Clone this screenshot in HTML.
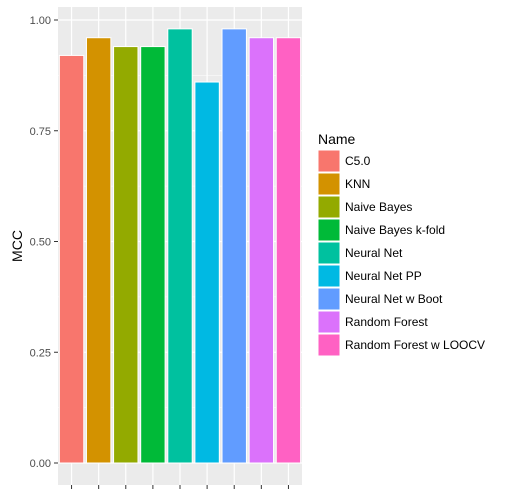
<!DOCTYPE html>
<html><head><meta charset="utf-8"><style>
body{margin:0;background:#fff;}
svg text{font-family:"Liberation Sans",sans-serif;}
</style></head><body>
<svg width="512" height="496" id="chart">
<rect x="58" y="7" width="244" height="478" fill="#ebebeb"/>
<g id="grid"></g><g id="bars"></g><g id="axes"></g><g id="legend"></g>
<text transform="translate(22,246) rotate(-90)" text-anchor="middle" font-size="14" fill="#000">MCC</text>
</svg>
<script>
const categories=["C5.0","KNN","Naive Bayes","Naive Bayes k-fold","Neural Net","Neural Net PP","Neural Net w Boot","Random Forest","Random Forest w LOOCV"];
const values=[0.92,0.96,0.94,0.94,0.98,0.86,0.98,0.96,0.96];
const colors=["#F8766D","#D39200","#93AA00","#00BA38","#00C19F","#00B9E3","#619CFF","#DB72FB","#FF61C3"];
const yTicks=[0,0.25,0.5,0.75,1];
const yTickLabels=["0.00","0.25","0.50","0.75","1.00"];
const NS="http://www.w3.org/2000/svg";
const y=v=>463-v*443;
const step=244/categories.length;
const xc=i=>58+step*(i+0.5);
function mk(t,a,p){const e=document.createElementNS(NS,t);for(const k in a)e.setAttribute(k,a[k]);p.appendChild(e);return e;}
const grid=document.getElementById('grid'),bars=document.getElementById('bars'),axes=document.getElementById('axes'),leg=document.getElementById('legend');
for(let i=0;i<yTicks.length-1;i++){const m=(yTicks[i]+yTicks[i+1])/2;
const g=mk('line',{x1:58,x2:302,y1:y(m),y2:y(m),stroke:'#fff','stroke-width':0.6},grid);

}
yTicks.forEach((t,i)=>{
const g=mk('line',{x1:58,x2:302,y1:y(t),y2:y(t),stroke:'#fff','stroke-width':1.2},grid);


const tk=mk('line',{x1:54,x2:58,y1:y(t),y2:y(t),stroke:'#333','stroke-width':1},axes);


const tx=mk('text',{x:51,y:y(t)+4,'text-anchor':'end','font-size':11,fill:'#4d4d4d'},axes);
tx.textContent=yTickLabels[i];

});
categories.forEach((c,i)=>{
const g=mk('line',{x1:xc(i),x2:xc(i),y1:7,y2:485,stroke:'#fff','stroke-width':1.2},grid);


const bw=step*0.9;
const b=mk('rect',{x:xc(i)-bw/2,y:y(values[i]),width:bw,height:y(0)-y(values[i]),fill:colors[i],stroke:'#fff','stroke-width':1},bars);


const tk=mk('line',{x1:xc(i),x2:xc(i),y1:485,y2:489,stroke:'#333','stroke-width':1},axes);


const k=mk('rect',{x:318,y:150+i*23,width:22,height:22,fill:colors[i],stroke:'#fff','stroke-width':1},leg);


const lt=mk('text',{x:345,y:165+i*23,'font-size':12,fill:'#000'},leg);
lt.textContent=c;

});
const tt=mk('text',{x:318,y:144,'font-size':14,fill:'#000'},leg);
tt.textContent='Name';


</script>
</body></html>
